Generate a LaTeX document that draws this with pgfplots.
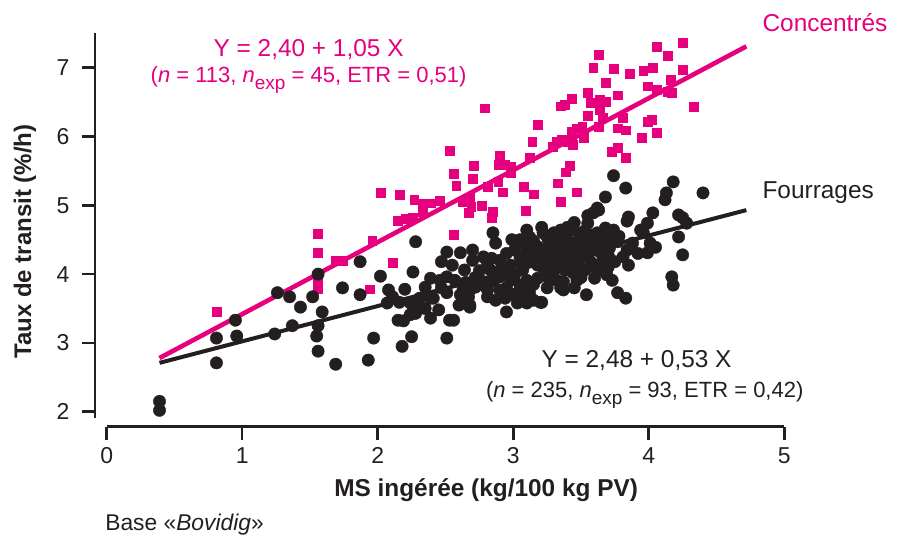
\documentclass[border=0pt]{standalone}
\usepackage{pgfplots}
\pgfplotsset{compat=1.18}
\usepackage{fontspec}
\setmainfont{Liberation Sans}
\definecolor{pinkc}{HTML}{E6007E}
\definecolor{darkc}{HTML}{231F20}
\newcommand{\nexp}{\textit{n}\raisebox{-0.3em}{\fontsize{9.5}{10}\selectfont exp}}
\begin{document}
\begin{tikzpicture}
\useasboundingbox (-47.5pt,-55.65pt) rectangle (404.5pt,213.35pt);
\begin{axis}[
  at={(0,0)}, anchor=south west,
  scale only axis, width=344.65pt, height=196.85pt,
  xmin=-0.086, xmax=5, ymin=1.782, ymax=7.504,
  axis lines*=left, axis line style={draw=none},
  xtick={0,1,2,3,4,5}, ytick={2,3,4,5,6,7},
  tick align=outside, major tick length=6.5pt,
  tick style={line width=1.3pt, darkc},
  tick label style={font=\fontsize{11.5}{13}\selectfont, text=darkc},
  yticklabel shift=2.7pt,
  xticklabel shift=0.5pt,
  /pgf/number format/assume math mode=true,
  clip=false,
]
\draw[line width=1.4pt, darkc] (axis cs:0,1.782) -- (axis cs:5,1.782);
\draw[line width=1.4pt, darkc] (axis cs:-0.086,1.908) -- (axis cs:-0.086,7.504);

% Concentres
\addplot[only marks, mark=square*, mark size=2.2pt, pinkc, mark options={line width=0.3pt}] coordinates {
(0.81,3.45) (1.56,4.58) (1.56,4.31) (1.56,3.91) (1.56,3.78) (1.69,4.19) (1.74,4.19) (1.94,3.78)
(1.96,4.48) (2.11,4.16) (2.02,5.18) (2.16,5.15) (2.27,5.08) (2.33,5.03) (2.39,5.03) (2.46,5.06)
(2.15,4.77) (2.21,4.80) (2.26,4.82) (2.33,4.90) (2.56,5.46) (2.58,5.28) (2.70,5.38) (2.71,5.57)
(2.63,5.05) (2.68,5.11) (2.69,4.98) (2.67,4.89) (2.77,4.99) (2.81,5.27) (2.85,4.90) (2.84,4.82)
(2.89,5.59) (2.94,5.59) (2.98,5.56) (2.90,5.72) (2.89,5.34) (2.92,5.19) (2.98,5.47) (3.08,5.27)
(3.15,5.16) (3.09,4.92) (3.12,5.69) (3.14,5.92) (3.18,6.17) (3.29,5.85) (3.32,5.92) (3.36,5.95)
(3.40,5.92) (3.43,5.99) (3.43,6.07) (3.47,6.12) (3.51,6.14) (3.52,5.98) (3.44,5.88) (3.35,6.44)
(3.38,6.46) (3.43,6.55) (3.55,6.63) (3.57,6.49) (3.55,6.30) (3.64,6.53) (3.68,6.50) (3.64,6.39)
(3.66,6.28) (3.63,6.14) (3.59,7.00) (3.63,7.19) (3.68,6.78) (3.74,6.98) (3.77,6.60) (3.81,6.27)
(3.77,6.12) (3.83,6.09) (3.86,6.91) (3.96,6.95) (4.03,7.00) (3.99,6.73) (4.06,6.68) (4.14,6.65)
(4.16,6.82) (4.17,6.63) (4.06,7.30) (4.14,7.17) (4.25,7.36) (4.25,6.97) (4.33,6.43) (3.99,6.21)
(4.02,6.24) (3.95,5.98) (4.06,6.05) (3.73,5.78) (3.77,5.83) (3.83,5.69) (3.39,5.48) (3.42,5.57)
(3.33,5.32) (3.47,5.19) (3.35,5.05) (2.79,6.41) (2.53,5.79) (2.56,4.57)
};
\addplot[pinkc, line width=2.3pt] coordinates {(0.39,2.78) (4.72,7.31)};

% Fourrages
\addplot[only marks, mark=*, mark size=3.1pt, darkc, mark options={line width=0.2pt}] coordinates {
(0.39,2.15) (0.39,2.02) (0.81,2.71) (0.81,3.07) (0.95,3.33) (0.96,3.10) (1.24,3.13) (1.37,3.25)
(1.26,3.73) (1.35,3.67) (1.43,3.52) (1.52,3.67) (1.59,3.45) (1.56,4.00) (1.56,3.25) (1.55,3.10)
(1.56,2.88) (1.69,2.69) (1.74,3.80) (1.87,4.18) (1.87,3.70) (1.93,2.75) (1.97,3.07) (2.02,3.97)
(2.07,3.58) (2.08,3.77) (2.11,3.67) (2.15,3.33) (2.19,3.32) (2.18,2.95) (2.25,3.09) (2.26,4.03)
(2.26,3.43) (2.30,3.55) (2.35,3.81) (2.39,3.65) (2.39,3.36) (2.51,3.07) (2.47,4.18) (2.51,3.96)
(2.51,3.73) (2.53,3.33) (2.51,4.32) (2.28,4.47) (2.16,3.59) (2.24,3.58) (2.28,3.51) (2.28,3.43)
(2.24,3.41) (2.31,3.65) (2.41,3.65) (2.46,3.91) (2.47,3.80) (2.63,3.80) (2.70,4.35) (2.70,4.20)
(2.67,3.67) (2.68,3.55) (2.72,3.81) (2.76,3.91) (2.78,4.25) (2.81,4.16) (2.85,4.60) (2.87,4.45)
(2.84,4.23) (2.78,3.84) (2.81,3.77) (2.81,3.67) (2.87,3.99) (2.90,3.96) (2.95,3.80) (2.98,3.91)
(2.95,4.06) (2.95,3.45) (2.99,4.50) (3.01,4.35) (3.06,4.16) (3.07,4.06) (3.04,3.74) (3.05,3.62)
(3.10,4.64) (3.12,4.54) (3.10,4.31) (3.14,4.35) (3.15,4.23) (3.20,4.31) (3.12,3.73) (3.15,3.62)
(3.20,3.59) (3.10,3.91) (3.18,3.94) (3.21,4.68) (3.25,4.54) (3.26,4.39) (3.29,4.31) (3.22,4.10)
(3.27,4.06) (3.29,3.96) (3.32,4.16) (3.12,3.81) (3.74,5.43) (3.83,5.25) (3.68,5.12) (3.63,4.93)
(3.59,4.89) (3.55,4.74) (4.18,5.34) (4.13,5.18) (4.12,5.08) (4.40,5.18) (3.85,4.83) (3.84,4.77)
(4.03,4.89) (4.22,4.86) (4.25,4.82) (4.28,4.74) (3.99,4.74) (3.94,4.64) (3.96,4.60) (4.22,4.54)
(4.25,4.28) (3.99,4.31) (4.05,4.39) (4.01,4.45) (4.17,3.96) (4.18,3.84) (3.68,4.67) (3.74,4.64)
(3.69,4.54) (3.77,4.47) (3.84,4.35) (3.81,4.25) (3.85,4.13) (3.69,3.99) (3.73,3.91) (3.77,3.73)
(3.83,3.65) (3.54,3.70) (3.37,3.77) (3.37,3.89) (3.22,4.60) (3.26,4.50) (3.40,4.68) (3.44,4.64)
(3.21,3.59) (3.60,4.13) (3.66,4.20) (3.32,3.91) (3.25,3.96) (3.47,3.91) (3.44,4.02) (3.62,4.96)
(3.35,4.64) (3.42,4.64) (2.56,3.33) (2.68,3.52) (3.10,3.58) (3.03,3.58) (2.68,3.77) (2.90,3.77)
(2.83,4.06) (2.61,4.31) (3.31,4.42) (3.38,4.38) (3.46,4.45) (3.53,4.38) (3.60,4.45) (3.35,4.23)
(3.42,4.18) (3.49,4.23) (3.57,4.18) (3.64,4.32) (3.38,4.06) (3.53,4.06) (3.60,3.94) (3.49,4.52)
(3.57,4.57) (3.64,4.50) (3.71,4.38) (3.75,4.18) (3.35,4.50) (3.43,4.28) (2.90,4.20) (2.98,4.13)
(3.05,3.84) (2.94,3.65) (2.87,3.62) (3.01,3.99) (3.09,4.42) (3.18,4.13) (2.57,3.91) (2.61,3.70)
(2.55,4.13) (2.39,3.94) (2.64,4.06)
(3.05,4.25) (3.12,4.18) (3.18,4.40) (3.22,4.25) (3.28,4.20) (3.30,4.05) (3.36,4.32) (3.40,4.10)
(3.45,4.35) (3.50,4.30) (3.55,4.25) (3.48,4.12) (3.55,4.50) (3.62,4.60) (3.58,4.35) (3.66,4.40)
(3.70,4.28) (3.68,4.45) (3.52,4.62) (3.40,4.50) (3.30,4.60) (3.15,4.48) (3.05,4.50) (2.95,4.30)
(2.90,4.05) (2.85,3.90) (2.75,4.05) (2.72,3.95) (2.60,3.55) (2.65,3.88) (3.00,3.70) (3.08,3.75)
(3.15,3.85) (3.25,3.80) (3.35,3.80) (3.45,3.80) (3.50,3.95) (3.62,4.05) (3.70,4.10) (3.78,4.55)
(3.88,4.45) (3.92,4.30) (3.45,4.75) (3.55,4.85) (2.45,3.48) (2.35,3.50) (2.20,3.78)
};
\addplot[darkc, line width=2pt] coordinates {(0.39,2.71) (4.72,4.93)};

% texts
\node[pinkc, font=\fontsize{12.2}{14}\selectfont] at (axis cs:1.49,7.26) {Y = 2,40 + 1,05 X};
\node[pinkc, font=\fontsize{11}{13}\selectfont] at (axis cs:1.49,6.82) {(\textit{n} = 113, \nexp{} = 45, ETR = 0,51)};
\node[pinkc, font=\fontsize{12.2}{14}\selectfont] at (axis cs:5.30,7.66) {Concentrés};
\node[darkc, font=\fontsize{12.2}{14}\selectfont] at (axis cs:5.25,5.19) {Fourrages};
\node[darkc, font=\fontsize{12.2}{14}\selectfont] at (axis cs:3.91,2.75) {Y = 2,48 + 0,53 X};
\node[darkc, font=\fontsize{11}{13}\selectfont] at (axis cs:3.97,2.24) {(\textit{n} = 235, \nexp{} = 93, ETR = 0,42)};
\node[darkc, font=\bfseries\fontsize{12.2}{14}\selectfont] at (axis cs:2.80,0.862) {MS ingérée (kg/100 kg PV)};
\node[darkc, font=\bfseries\fontsize{12}{14}\selectfont, rotate=90] at (axis cs:-0.603,4.47) {Taux de transit (\%/h)};
\node[darkc, font=\fontsize{11.4}{13}\selectfont, anchor=west, inner sep=0pt] at (axis cs:-0.013,0.353) {Base «\textit{Bovidig}»};
\end{axis}
\end{tikzpicture}
\end{document}
